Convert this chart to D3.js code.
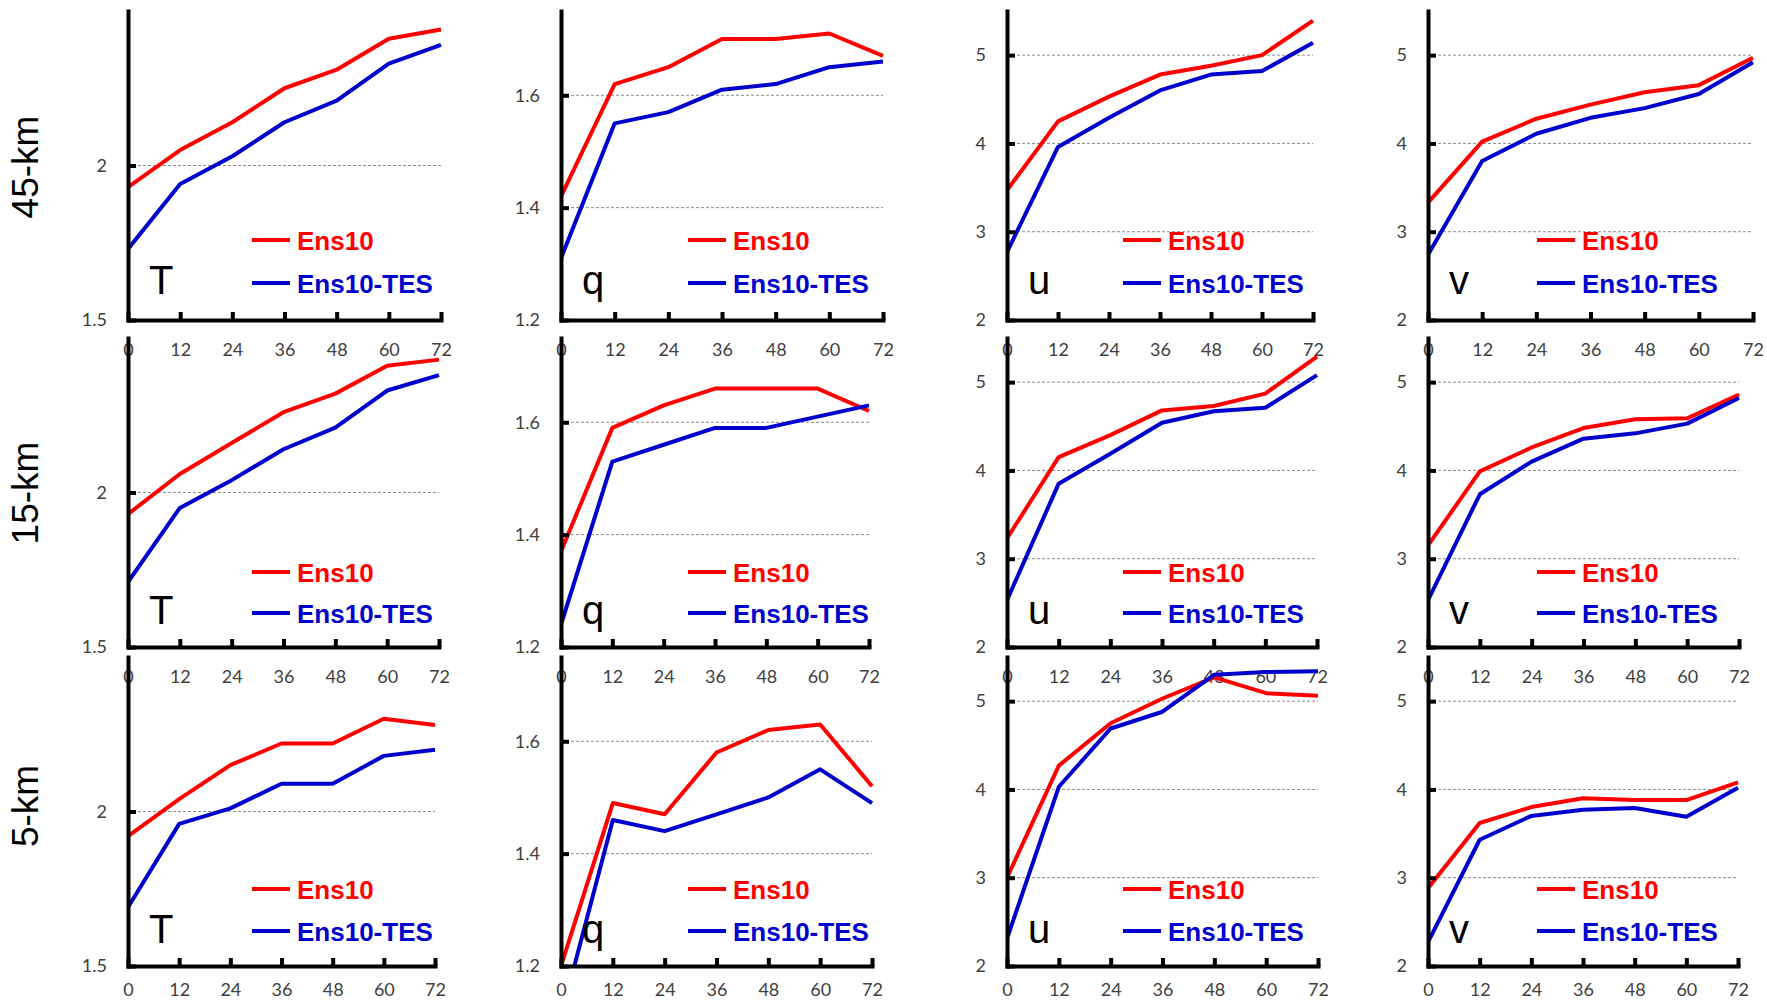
<!DOCTYPE html>
<html>
<head>
<meta charset="utf-8">
<script src="https://cdn.jsdelivr.net/npm/d3@7"></script>
<style>
  body { margin: 0; background: #ffffff; }
  svg { display: block; }
</style>
</head>
<body>
<svg id="chart" width="1767" height="1002"></svg>
<script>
// ---- data -------------------------------------------------------------
const leadTimes = [0, 12, 24, 36, 48, 60, 72];
const resolutions = ["45-km", "15-km", "5-km"];
const variables = ["T", "q", "u", "v"];
const seriesNames = ["Ens10", "Ens10-TES"];

// 45-km
const ens10_45_T = [1.93, 2.05, 2.14, 2.25, 2.31, 2.41, 2.44];
const tes_45_T   = [1.73, 1.94, 2.03, 2.14, 2.21, 2.33, 2.39];
const ens10_45_q = [1.42, 1.62, 1.65, 1.70, 1.70, 1.71, 1.67];
const tes_45_q   = [1.31, 1.55, 1.57, 1.61, 1.62, 1.65, 1.66];
const ens10_45_u = [3.47, 4.25, 4.53, 4.78, 4.88, 5.00, 5.39];
const tes_45_u   = [2.77, 3.96, 4.29, 4.60, 4.78, 4.82, 5.14];
const ens10_45_v = [3.33, 4.02, 4.28, 4.44, 4.58, 4.66, 4.97];
const tes_45_v   = [2.74, 3.80, 4.11, 4.29, 4.40, 4.56, 4.92];

// 15-km
const ens10_15_T = [1.93, 2.06, 2.16, 2.26, 2.32, 2.41, 2.43];
const tes_15_T   = [1.71, 1.95, 2.04, 2.14, 2.21, 2.33, 2.38];
const ens10_15_q = [1.37, 1.59, 1.63, 1.66, 1.66, 1.66, 1.62];
const tes_15_q   = [1.24, 1.53, 1.56, 1.59, 1.59, 1.61, 1.63];
const ens10_15_u = [3.23, 4.15, 4.40, 4.68, 4.73, 4.87, 5.29];
const tes_15_u   = [2.53, 3.85, 4.19, 4.54, 4.67, 4.71, 5.08];
const ens10_15_v = [3.15, 3.99, 4.26, 4.48, 4.58, 4.59, 4.86];
const tes_15_v   = [2.53, 3.73, 4.10, 4.36, 4.42, 4.53, 4.82];

// 5-km
const ens10_5_T = [1.92, 2.04, 2.15, 2.22, 2.22, 2.30, 2.28];
const tes_5_T   = [1.69, 1.96, 2.01, 2.09, 2.09, 2.18, 2.20];
const ens10_5_q = [1.20, 1.49, 1.47, 1.58, 1.62, 1.63, 1.52];
const tes_5_q   = [1.11, 1.46, 1.44, 1.47, 1.50, 1.55, 1.49];
const ens10_5_u = [3.00, 4.27, 4.75, 5.03, 5.27, 5.09, 5.06];
const tes_5_u   = [2.31, 4.03, 4.69, 4.88, 5.30, 5.33, 5.34];
const ens10_5_v = [2.88, 3.62, 3.80, 3.90, 3.88, 3.88, 4.08];
const tes_5_v   = [2.27, 3.43, 3.70, 3.77, 3.79, 3.69, 4.02];

// axis ranges and tick labels for each variable
const yDomainT = [1.5, 2.5],  yTicksT = [1.5, 2];
const yDomainQ = [1.2, 1.75], yTicksQ = [1.2, 1.4, 1.6];
const yDomainU = [2, 5.5],    yTicksU = [2, 3, 4, 5];
const yDomainV = [2, 5.5],    yTicksV = [2, 3, 4, 5];

// ---- assemble panel table ----------------------------------------------
const yDomains = [yDomainT, yDomainQ, yDomainU, yDomainV];
const yTicks = [yTicksT, yTicksQ, yTicksU, yTicksV];
const panelSeries = [
  [[ens10_45_T, tes_45_T], [ens10_45_q, tes_45_q], [ens10_45_u, tes_45_u], [ens10_45_v, tes_45_v]],
  [[ens10_15_T, tes_15_T], [ens10_15_q, tes_15_q], [ens10_15_u, tes_15_u], [ens10_15_v, tes_15_v]],
  [[ens10_5_T,  tes_5_T],  [ens10_5_q,  tes_5_q],  [ens10_5_u,  tes_5_u],  [ens10_5_v,  tes_5_v]]
];

// ---- layout -------------------------------------------------------------
const colLeft = [128, 561, 1007, 1428];
const panelRight = [
  [441, 883, 1313, 1753],
  [439, 869, 1317, 1739],
  [435, 872, 1318, 1738]
];
const rowBottom = [320, 647, 966];
const plotH = 309;
const xLabelPad = [23, 23, 17];
const legendX = [252, 688, 1123, 1537];
const legendY = [[240, 283], [572, 613], [889, 931]];
const varLabelBase = [294, 624, 943];
const rowLabelY = [167, 493, 806];
const colors = ["#ff0000", "#0000cc"];
const tickFont = "Lato, 'Open Sans', sans-serif";
const boldFont = "'Liberation Sans', Arial, sans-serif";

const svg = d3.select("#chart");
const defs = svg.append("defs");

// resolution labels on the left
resolutions.forEach((r, i) => {
  svg.append("text")
    .attr("transform", `translate(38,${rowLabelY[i]}) rotate(-90)`)
    .attr("text-anchor", "middle")
    .attr("font-family", boldFont)
    .attr("font-size", 37)
    .attr("fill", "#000")
    .text(r);
});

resolutions.forEach((res, ri) => {
  variables.forEach((vname, ci) => {
    const left = colLeft[ci];
    const right = panelRight[ri][ci];
    const bottom = rowBottom[ri];
    const top = bottom - plotH;

    const x = d3.scaleLinear().domain([0, 72]).range([left, right]);
    const y = d3.scaleLinear().domain(yDomains[ci]).range([bottom, top]);

    const g = svg.append("g");

    // dashed horizontal gridlines
    g.selectAll("line.grid")
      .data(yTicks[ci].filter(v => v > yDomains[ci][0]))
      .join("line")
      .attr("class", "grid")
      .attr("x1", left).attr("x2", right)
      .attr("y1", d => y(d)).attr("y2", d => y(d))
      .attr("stroke", "#8c8c8c")
      .attr("stroke-width", 1)
      .attr("stroke-dasharray", "3,2");

    // clipping to the plot area
    const clipId = `clip-${ri}-${ci}`;
    defs.append("clipPath").attr("id", clipId)
      .append("rect")
      .attr("x", left).attr("y", top - 4)
      .attr("width", right - left + 4).attr("height", bottom - top + 4);

    const line = d3.line()
      .x((d, i) => x(leadTimes[i]))
      .y(d => y(d));

    g.append("g").attr("clip-path", `url(#${clipId})`)
      .selectAll("path.series")
      .data(panelSeries[ri][ci])
      .join("path")
      .attr("class", "series")
      .attr("d", line)
      .attr("fill", "none")
      .attr("stroke", (d, i) => colors[i])
      .attr("stroke-width", 4)
      .attr("stroke-linejoin", "round");

    // y axis
    const yAxis = d3.axisLeft(y)
      .tickValues(yTicks[ci])
      .tickFormat(d3.format("~g"))
      .tickSizeInner(-8)
      .tickSizeOuter(0)
      .tickPadding(21);
    const ya = g.append("g").attr("transform", `translate(${left},0)`).call(yAxis);
    ya.select(".domain").attr("stroke", "#000").attr("stroke-width", 4).attr("stroke-linecap", "square");
    ya.selectAll(".tick line").attr("stroke", "#000").attr("stroke-width", 4);
    ya.selectAll(".tick text")
      .attr("font-family", tickFont).attr("font-size", 18).attr("fill", "#404040");

    // x axis
    const xAxis = d3.axisBottom(x)
      .tickValues(leadTimes)
      .tickSizeInner(-8)
      .tickSizeOuter(0)
      .tickPadding(xLabelPad[ri]);
    const xa = g.append("g").attr("transform", `translate(0,${bottom})`).call(xAxis);
    xa.select(".domain").attr("stroke", "#000").attr("stroke-width", 4).attr("stroke-linecap", "square");
    xa.selectAll(".tick line").attr("stroke", "#000").attr("stroke-width", 4);
    xa.selectAll(".tick text")
      .attr("font-family", tickFont).attr("font-size", 18).attr("fill", "#404040");

    // legend
    seriesNames.forEach((name, si) => {
      const ly = legendY[ri][si];
      g.append("line")
        .attr("x1", legendX[ci]).attr("x2", legendX[ci] + 38)
        .attr("y1", ly).attr("y2", ly)
        .attr("stroke", colors[si]).attr("stroke-width", 4);
      g.append("text")
        .attr("x", legendX[ci] + 45).attr("y", ly + 9.5)
        .attr("font-family", boldFont).attr("font-weight", "bold")
        .attr("font-size", 26).attr("fill", colors[si])
        .text(name);
    });

    // variable label
    g.append("text")
      .attr("x", left + 21).attr("y", varLabelBase[ri])
      .attr("font-family", boldFont).attr("font-size", 40).attr("fill", "#000")
      .text(vname);
  });
});
</script>
</body>
</html>
